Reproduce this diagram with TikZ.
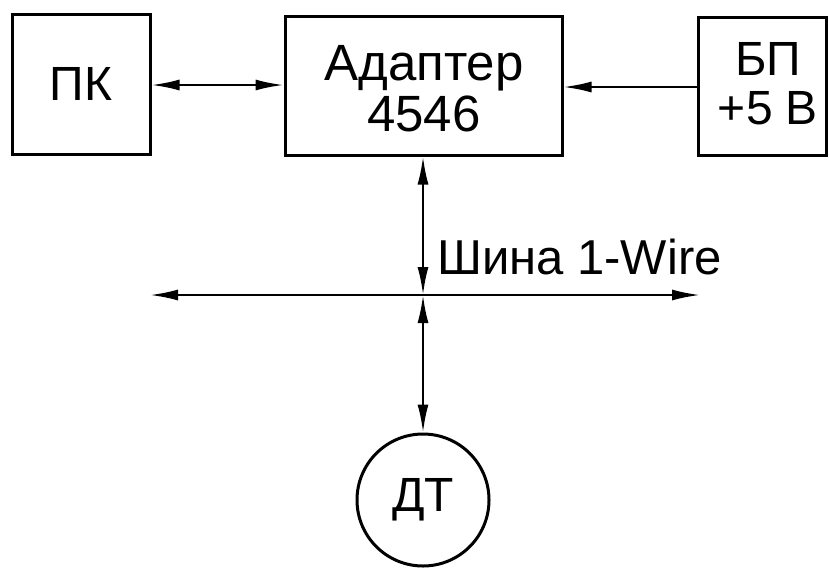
\documentclass[tikz,border=0pt]{standalone}
\usepackage{fontspec}
\setmainfont{Liberation Sans}
\usetikzlibrary{arrows.meta}
\begin{document}
\begin{tikzpicture}[x=1pt,y=-1pt,
  blockbox/.style={draw=black,line width=3pt,inner sep=0pt,align=center,
    font=\fontsize{48}{50}\selectfont},
  conn/.style={line width=2.2pt},
  mytip/.tip={Latex[length=28pt,width=11pt]}
]
\useasboundingbox (0,0) rectangle (829,571);
\node[blockbox,minimum width=138pt,minimum height=140pt] (pk) at (81,84) {ПК};
\node[blockbox,minimum width=277pt,minimum height=139pt] (ad) at (423.5,85.5) {};
\node[font=\fontsize{51}{51}\selectfont,align=center,inner sep=0pt] (adtext) at (424,89) {Адаптер\\4546};
\node[blockbox,minimum width=128pt,minimum height=138pt] (bp) at (762,86) {};
\node[font=\fontsize{48}{49}\selectfont,align=center,inner sep=0pt] (bptext) at (768,84) {БП\\+5 В};
\node[blockbox,circle,minimum size=132pt] (dt) at (423,500) {ДТ};
\coordinate (busL) at (150,295);
\coordinate (busR) at (700,295);
\coordinate (busC) at (423,295);
\node[font=\fontsize{49}{50}\selectfont,anchor=base west,inner sep=0pt] (buslabel) at (437,274) {Шина 1-Wire};
\draw[conn,mytip-mytip] (pk.east |- 0,85) -- (ad.west |- 0,85);
\draw[conn,-mytip] (bp.west |- 0,87) -- (ad.east |- 0,87);
\draw[conn,mytip-mytip] (busL) -- (busR);
\draw[conn,mytip-mytip] (ad.south -| busC) -- (busC);
\draw[conn,mytip-mytip] (busC) -- (dt.north);
\end{tikzpicture}
\end{document}
